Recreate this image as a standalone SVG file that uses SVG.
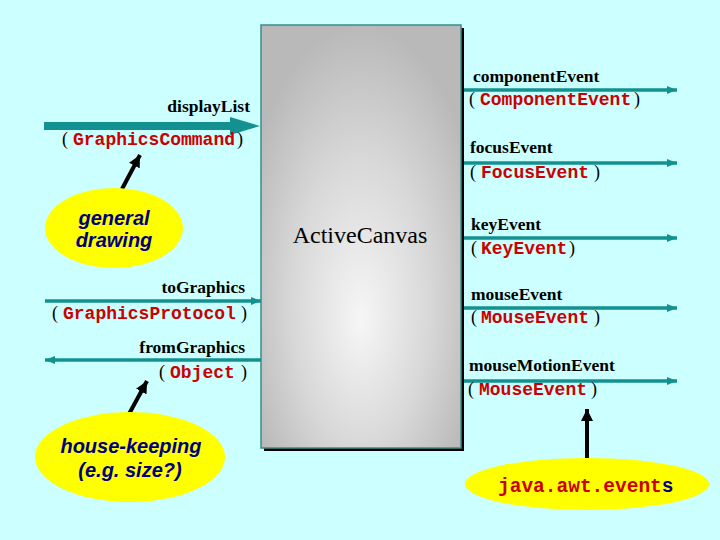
<svg xmlns="http://www.w3.org/2000/svg" width="720" height="540" viewBox="0 0 720 540">
<style>
.lbl{font-family:"Liberation Serif","Times New Roman",serif;font-weight:bold;font-size:17.5px;fill:#000}
.par{font-family:"Liberation Serif","Times New Roman",serif;font-size:18px;fill:#000}
.typ{font-family:"Liberation Mono","Courier New",monospace;font-weight:bold;font-size:18px;fill:#cc0000}
.note{font-family:"Liberation Sans",Arial,sans-serif;font-weight:bold;font-style:italic;font-size:20px;fill:#000080;text-anchor:middle}
.flow{stroke:#139090;stroke-width:3.5;fill:none}
.ptr{stroke:#000;stroke-width:4;fill:none}
.blob{fill:#ffff00}
</style>
<defs>
<radialGradient id="g" cx="0.5" cy="0.62" r="0.62" fx="0.5" fy="0.7">
<stop offset="0" stop-color="#f6f6f6"/>
<stop offset="0.55" stop-color="#d8d8d8"/>
<stop offset="1" stop-color="#b9b9b9"/>
</radialGradient>
<marker id="ah" viewBox="0 0 10 8" refX="10" refY="4" markerWidth="10" markerHeight="8" markerUnits="userSpaceOnUse" orient="auto">
<path d="M0,0 L10,4 L0,8 Z" fill="#139090"/>
</marker>
<marker id="bh" viewBox="0 0 12 12" refX="12" refY="6" markerWidth="12" markerHeight="12" markerUnits="userSpaceOnUse" orient="auto">
<path d="M0,0 L12,6 L0,12 Z" fill="#000"/>
</marker>
</defs>
<rect width="720" height="540" fill="#ccffff"/>

<g id="canvas">
<rect x="264" y="28" width="200" height="423" fill="#000"/>
<rect x="261" y="25" width="200" height="423" fill="url(#g)" stroke="#3d8c8c" stroke-width="1.5"/>
<text x="360" y="243" font-family="Liberation Serif,Times New Roman,serif" font-size="24" text-anchor="middle">ActiveCanvas</text>
</g>

<g id="connectors">
<line x1="44" y1="126" x2="232" y2="126" stroke="#139090" stroke-width="8"/>
<path d="M230,117 L260,126 L230,135 Z" fill="#139090"/>
<line class="flow" x1="45" y1="301" x2="261" y2="301" marker-end="url(#ah)"/>
<line class="flow" x1="261" y1="360" x2="45" y2="360" marker-end="url(#ah)"/>
<line class="flow" x1="464" y1="90" x2="677" y2="90" marker-end="url(#ah)"/>
<line class="flow" x1="464" y1="163" x2="677" y2="163" marker-end="url(#ah)"/>
<line class="flow" x1="464" y1="238" x2="677" y2="238" marker-end="url(#ah)"/>
<line class="flow" x1="464" y1="308" x2="677" y2="308" marker-end="url(#ah)"/>
<line class="flow" x1="464" y1="381" x2="677" y2="381" marker-end="url(#ah)"/>
<line class="ptr" x1="122" y1="189" x2="140" y2="155" marker-end="url(#bh)"/>
<line class="ptr" x1="129" y1="414" x2="147" y2="381" marker-end="url(#bh)"/>
<line class="ptr" x1="587" y1="459" x2="587" y2="409" marker-end="url(#bh)"/>
</g>

<g id="displayList">
<text class="lbl" x="250" y="112" text-anchor="end">displayList</text>
<text class="par" x="62" y="145">(</text>
<text class="typ" x="73" y="145">GraphicsCommand</text>
<text class="par" x="237" y="145">)</text>
</g>

<g id="toGraphics">
<text class="lbl" x="245" y="293" text-anchor="end">toGraphics</text>
<text class="par" x="52" y="319">(</text>
<text class="typ" x="63" y="319">GraphicsProtocol</text>
<text class="par" x="241" y="319">)</text>
</g>

<g id="fromGraphics">
<text class="lbl" x="245" y="353" text-anchor="end">fromGraphics</text>
<text class="par" x="159" y="378">(</text>
<text class="typ" x="170" y="378">Object</text>
<text class="par" x="241" y="378">)</text>
</g>

<g id="componentEvent">
<text class="lbl" x="473" y="82">componentEvent</text>
<text class="par" x="469" y="105">(</text>
<text class="typ" x="480" y="105">ComponentEvent</text>
<text class="par" x="634" y="105">)</text>
</g>

<g id="focusEvent">
<text class="lbl" x="470" y="153">focusEvent</text>
<text class="par" x="470" y="178">(</text>
<text class="typ" x="481" y="178">FocusEvent</text>
<text class="par" x="594" y="178">)</text>
</g>

<g id="keyEvent">
<text class="lbl" x="471" y="230">keyEvent</text>
<text class="par" x="471" y="254">(</text>
<text class="typ" x="481" y="254">KeyEvent</text>
<text class="par" x="569" y="254">)</text>
</g>

<g id="mouseEvent">
<text class="lbl" x="471" y="300">mouseEvent</text>
<text class="par" x="471" y="323">(</text>
<text class="typ" x="481" y="323">MouseEvent</text>
<text class="par" x="594" y="323">)</text>
</g>

<g id="mouseMotionEvent">
<text class="lbl" x="469" y="371">mouseMotionEvent</text>
<text class="par" x="468" y="395">(</text>
<text class="typ" x="479" y="395">MouseEvent</text>
<text class="par" x="591" y="395">)</text>
</g>

<g id="generalDrawing">
<ellipse class="blob" cx="114" cy="228" rx="69" ry="40"/>
<text class="note" x="114" y="225">general</text>
<text class="note" x="114" y="247">drawing</text>
</g>

<g id="houseKeeping">
<ellipse class="blob" cx="130" cy="457" rx="95" ry="45"/>
<text class="note" x="131" y="453">house-keeping</text>
<text class="note" x="130" y="477">(e.g. size?)</text>
</g>

<g id="javaAwtEvents">
<ellipse class="blob" cx="587" cy="484" rx="122" ry="26"/>
<text x="498" y="492" font-family="Liberation Mono,Courier New,monospace" font-weight="bold" font-size="19.5" fill="#cc0000">java.awt.event<tspan fill="#000080">s</tspan></text>
</g>
</svg>
